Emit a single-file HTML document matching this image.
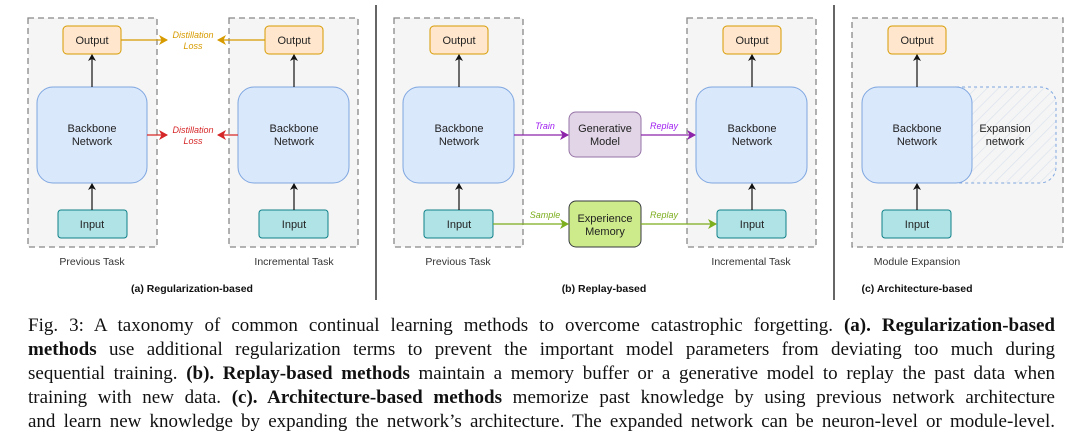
<!DOCTYPE html>
<html><head><meta charset="utf-8"><style>
html,body{margin:0;padding:0;background:#fff;width:1080px;height:445px;overflow:hidden}
.cap{position:absolute;left:28px;width:1027px;font-family:"Liberation Serif",serif;font-size:19px;color:#111;line-height:24px}
.cap div{text-align:justify;text-align-last:justify;white-space:nowrap;height:24px}
.cap div.l{white-space:normal}
</style></head><body>
<svg width="1080" height="300" style="position:absolute;left:0;top:0" font-family="Liberation Sans, sans-serif">
<defs>
<marker id="ak" markerWidth="8" markerHeight="8" refX="6" refY="4" orient="auto" markerUnits="userSpaceOnUse"><path d="M0,0 L7,4 L0,8 L2,4z" fill="#111"/></marker>
<marker id="ao" markerWidth="10" markerHeight="10" refX="8" refY="5" orient="auto" markerUnits="userSpaceOnUse"><path d="M0,0 L9,5 L0,10 L2.5,5z" fill="#d79b00"/></marker>
<marker id="ar" markerWidth="10" markerHeight="10" refX="8" refY="5" orient="auto" markerUnits="userSpaceOnUse"><path d="M0,0 L9,5 L0,10 L2.5,5z" fill="#d62728"/></marker>
<marker id="ap" markerWidth="10" markerHeight="10" refX="8" refY="5" orient="auto" markerUnits="userSpaceOnUse"><path d="M0,0 L9,5 L0,10 L2.5,5z" fill="#8e24aa"/></marker>
<marker id="ag" markerWidth="10" markerHeight="10" refX="8" refY="5" orient="auto" markerUnits="userSpaceOnUse"><path d="M0,0 L9,5 L0,10 L2.5,5z" fill="#7cae1e"/></marker>
<pattern id="hatch" width="8" height="8" patternUnits="userSpaceOnUse" patternTransform="rotate(45)"><line x1="0" y1="0" x2="0" y2="8" stroke="#dde4ee" stroke-width="1.5"/></pattern>
</defs>
<g stroke="#888" stroke-width="1.3" stroke-dasharray="6,4" fill="#f5f5f5">
<rect x="28" y="18" width="129" height="229"/><rect x="229" y="18" width="129" height="229"/>
<rect x="394" y="18" width="129" height="229"/><rect x="687" y="18" width="129" height="229"/>
<rect x="852" y="18" width="211" height="229"/>
</g>
<line x1="376" y1="5" x2="376" y2="300" stroke="#333" stroke-width="1.5"/>
<line x1="834" y1="5" x2="834" y2="300" stroke="#333" stroke-width="1.5"/>
<rect x="940" y="87" width="116" height="96" rx="16" fill="url(#hatch)" stroke="#7ea6e0" stroke-dasharray="3,3"/>
<g font-size="11" fill="#222" text-anchor="middle">
<!-- generic column builder -->
<g id="cols">
</g>
</g>
<g font-size="11" fill="#222" text-anchor="middle">
<!-- col a1 -->
<rect x="63" y="26" width="58" height="28" rx="4" fill="#ffe6cc" stroke="#d79b00"/><text x="92" y="44">Output</text>
<rect x="37" y="87" width="110" height="96" rx="16" fill="#dae8fc" stroke="#7ea6e0"/><text x="92" y="132">Backbone</text><text x="92" y="145">Network</text>
<rect x="58" y="210" width="69" height="28" rx="3" fill="#b0e3e6" stroke="#0e8088"/><text x="92" y="228">Input</text>
<!-- col a2 -->
<rect x="265" y="26" width="58" height="28" rx="4" fill="#ffe6cc" stroke="#d79b00"/><text x="294" y="44">Output</text>
<rect x="238" y="87" width="111" height="96" rx="16" fill="#dae8fc" stroke="#7ea6e0"/><text x="294" y="132">Backbone</text><text x="294" y="145">Network</text>
<rect x="259" y="210" width="69" height="28" rx="3" fill="#b0e3e6" stroke="#0e8088"/><text x="294" y="228">Input</text>
<!-- col b1 -->
<rect x="430" y="26" width="58" height="28" rx="4" fill="#ffe6cc" stroke="#d79b00"/><text x="459" y="44">Output</text>
<rect x="403" y="87" width="111" height="96" rx="16" fill="#dae8fc" stroke="#7ea6e0"/><text x="459" y="132">Backbone</text><text x="459" y="145">Network</text>
<rect x="424" y="210" width="69" height="28" rx="3" fill="#b0e3e6" stroke="#0e8088"/><text x="459" y="228">Input</text>
<!-- col b2 -->
<rect x="723" y="26" width="58" height="28" rx="4" fill="#ffe6cc" stroke="#d79b00"/><text x="752" y="44">Output</text>
<rect x="696" y="87" width="111" height="96" rx="16" fill="#dae8fc" stroke="#7ea6e0"/><text x="752" y="132">Backbone</text><text x="752" y="145">Network</text>
<rect x="717" y="210" width="69" height="28" rx="3" fill="#b0e3e6" stroke="#0e8088"/><text x="752" y="228">Input</text>
<!-- col c -->
<rect x="888" y="26" width="58" height="28" rx="4" fill="#ffe6cc" stroke="#d79b00"/><text x="917" y="44">Output</text>
<rect x="862" y="87" width="110" height="96" rx="16" fill="#dae8fc" stroke="#7ea6e0"/><text x="917" y="132">Backbone</text><text x="917" y="145">Network</text>
<rect x="882" y="210" width="69" height="28" rx="3" fill="#b0e3e6" stroke="#0e8088"/><text x="917" y="228">Input</text>
<text x="1005" y="132">Expansion</text><text x="1005" y="145">network</text>
<!-- middle b -->
<rect x="569" y="112" width="72" height="45" rx="7" fill="#e1d5e7" stroke="#9673a6"/><text x="605" y="132">Generative</text><text x="605" y="145">Model</text>
<rect x="569" y="201" width="72" height="46" rx="7" fill="#cdeb8b" stroke="#36393d"/><text x="605" y="222">Experience</text><text x="605" y="235">Memory</text>
<!-- captions -->
<g font-size="10.5" fill="#333">
<text x="92" y="265">Previous Task</text><text x="294" y="265">Incremental Task</text>
<text x="458" y="265">Previous Task</text><text x="751" y="265">Incremental Task</text>
<text x="917" y="265">Module Expansion</text>
</g>
<g font-size="10.5" font-weight="bold" fill="#111">
<text x="192" y="292">(a) Regularization-based</text>
<text x="604" y="292">(b) Replay-based</text>
<text x="917" y="292">(c) Architecture-based</text>
</g>
<g font-size="9" font-style="italic">
<text x="193" y="38" fill="#d79b00">Distillation</text><text x="193" y="49" fill="#d79b00">Loss</text>
<text x="193" y="133" fill="#d62728">Distillation</text><text x="193" y="144" fill="#d62728">Loss</text>
<text x="545" y="129" fill="#a020f0">Train</text><text x="664" y="129" fill="#a020f0">Replay</text>
<text x="545" y="218" fill="#7cae1e">Sample</text><text x="664" y="218" fill="#7cae1e">Replay</text>
</g>
</g>
<g stroke="#111" stroke-width="1.2" marker-end="url(#ak)">
<line x1="92" y1="87" x2="92" y2="55"/><line x1="92" y1="210" x2="92" y2="184"/>
<line x1="294" y1="87" x2="294" y2="55"/><line x1="294" y1="210" x2="294" y2="184"/>
<line x1="459" y1="87" x2="459" y2="55"/><line x1="459" y1="210" x2="459" y2="184"/>
<line x1="752" y1="87" x2="752" y2="55"/><line x1="752" y1="210" x2="752" y2="184"/>
<line x1="917" y1="87" x2="917" y2="55"/><line x1="917" y1="210" x2="917" y2="184"/>
</g>
<line x1="121" y1="40" x2="167" y2="40" stroke="#d79b00" stroke-width="1.2" marker-end="url(#ao)"/>
<line x1="265" y1="40" x2="218" y2="40" stroke="#d79b00" stroke-width="1.2" marker-end="url(#ao)"/>
<line x1="147" y1="135" x2="167" y2="135" stroke="#d62728" stroke-width="1.2" marker-end="url(#ar)"/>
<line x1="238" y1="135" x2="218" y2="135" stroke="#d62728" stroke-width="1.2" marker-end="url(#ar)"/>
<line x1="514" y1="135" x2="568" y2="135" stroke="#8e24aa" stroke-width="1.2" marker-end="url(#ap)"/>
<line x1="641" y1="135" x2="695" y2="135" stroke="#8e24aa" stroke-width="1.2" marker-end="url(#ap)"/>
<line x1="493" y1="224" x2="568" y2="224" stroke="#7cae1e" stroke-width="1.2" marker-end="url(#ag)"/>
<line x1="641" y1="224" x2="716" y2="224" stroke="#7cae1e" stroke-width="1.2" marker-end="url(#ag)"/>
</svg>
<div class="cap" style="top:314px">
<div>Fig. 3: A taxonomy of common continual learning methods to overcome catastrophic forgetting. <b>(a). Regularization-based</b></div>
<div><b>methods</b> use additional regularization terms to prevent the important model parameters from deviating too much during</div>
<div>sequential training. <b>(b). Replay-based methods</b> maintain a memory buffer or a generative model to replay the past data when</div>
<div>training with new data. <b>(c). Architecture-based methods</b> memorize past knowledge by using previous network architecture</div>
<div>and learn new knowledge by expanding the network’s architecture. The expanded network can be neuron-level or module-level.</div>
</div>
</body></html>
